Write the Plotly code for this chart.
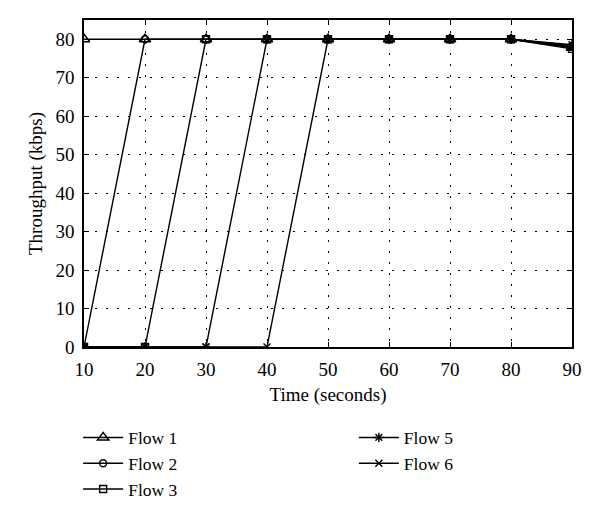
import plotly.graph_objects as go

# 資料
time_s = [10, 20, 30, 40, 50, 60, 70, 80, 90]
flow1 = [80, 80, 80, 80, 80, 80, 80, 80, 77.8]
flow2 = [0, 80, 80, 80, 80, 80, 80, 80, 78.3]
flow3 = [0, 0, 80, 80, 80, 80, 80, 80, 77.5]
flow5 = [0, 0, 0, 80, 80, 80, 80, 80, 78.6]
flow6 = [0, 0, 0, 0, 80, 80, 80, 80, 78.0]

FONT = 'Liberation Serif'

fig = go.Figure()

series = [
    ('Flow 1', flow1, 'triangle-up-open', 10, 'legend'),
    ('Flow 2', flow2, 'circle-open', 7, 'legend'),
    ('Flow 3', flow3, 'square-open', 7, 'legend'),
    ('Flow 5', flow5, 'asterisk-open', 8, 'legend2'),
    ('Flow 6', flow6, 'x-thin-open', 7, 'legend2'),
]

for name, ys, sym, size, leg in series:
    fig.add_trace(go.Scatter(
        x=time_s, y=ys, name=name, mode='lines+markers',
        line=dict(color='black', width=1.4),
        marker=dict(symbol=sym, size=size, color='black',
                    line=dict(color='black', width=1.4)),
        legend=leg
    ))

axis_common = dict(
    showline=True, linecolor='black', linewidth=1.5, mirror='ticks',
    ticks='inside', ticklen=5, tickcolor='black',
    showgrid=True, gridcolor='black', griddash='1.5px,9.5px', gridwidth=1.2,
    zeroline=False, ticklabelstandoff=4,
    tickfont=dict(family=FONT, size=19, color='black'),
)

fig.update_xaxes(
    range=[10, 90], tickvals=[10, 20, 30, 40, 50, 60, 70, 80, 90],
    title=dict(text='Time (seconds)', font=dict(family=FONT, size=19, color='black'), standoff=9),
    **axis_common
)
fig.update_yaxes(
    range=[0, 85], tickvals=[0, 10, 20, 30, 40, 50, 60, 70, 80],
    title=dict(text='Throughput (kbps)', font=dict(family=FONT, size=19, color='black'), standoff=8),
    **axis_common
)

legend_style = dict(
    orientation='v', xanchor='left', yanchor='top',
    font=dict(family=FONT, size=17.5, color='black'),
    bgcolor='rgba(0,0,0,0)', tracegroupgap=0, itemwidth=40,
)

# 頁面 body 有 8px 邊距，邊界往內補償
fig.update_layout(
    width=600, height=519,
    margin=dict(l=76, r=36, t=12, b=180, autoexpand=False),
    paper_bgcolor='white', plot_bgcolor='white',
    font=dict(family=FONT, color='black'),
    legend=dict(x=-0.012, y=-0.222, **legend_style),
    legend2=dict(x=0.553, y=-0.222, **legend_style),
)

fig.write_html('out.html')
